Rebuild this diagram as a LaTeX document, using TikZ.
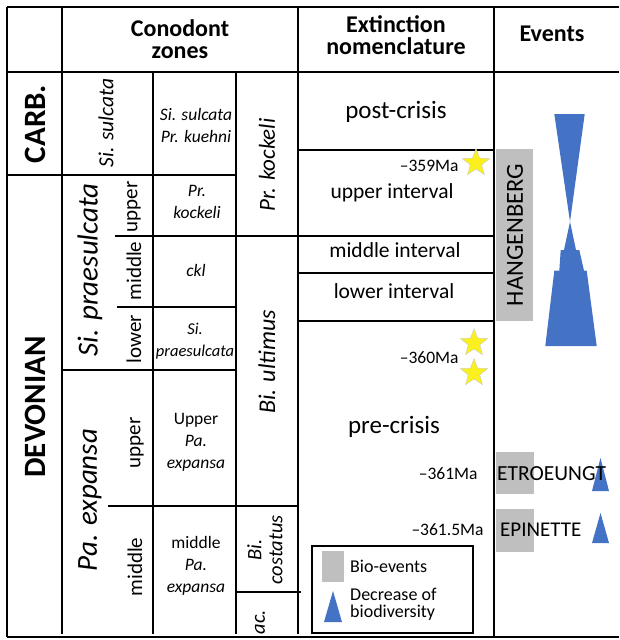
\documentclass[tikz,border=0pt]{standalone}
\usepackage{fontspec}
\setmainfont{Carlito}
\usetikzlibrary{shapes.geometric}
\definecolor{bioblue}{HTML}{4472C4}
\definecolor{biogray}{HTML}{BFBFBF}
\definecolor{staryellow}{HTML}{FAF01E}

\begin{document}
\begin{tikzpicture}[x=1pt,y=-1pt,
  rule/.style={line width=1.6pt},
  hdr/.style={font=\fontsize{24}{22}\selectfont\bfseries,align=center},
  era/.style={font=\fontsize{31}{31}\selectfont\bfseries,rotate=90},
  zone/.style={font=\fontsize{29}{29}\selectfont\itshape,rotate=90},
  sub/.style={font=\fontsize{21}{21}\selectfont,rotate=90},
  biozone/.style={font=\fontsize{17.5}{22}\selectfont\itshape,align=center},
  interval/.style={font=\fontsize{21.5}{24}\selectfont},
  age/.style={font=\fontsize{17.5}{20}\selectfont,anchor=east},
  starmark/.style={star,star points=5,star point ratio=2.4,minimum size=29pt,inner sep=0pt,fill=staryellow,draw=black!20,thin}]
\useasboundingbox (0,0) rectangle (619,640);

\draw[rule] (7,7) -- (619,7);
\draw[rule] (7,72) -- (619,72);
\draw[rule] (7,637) -- (619,637);
\draw[rule] (7,7) -- (7,637);
\draw[rule] (62,7) -- (62,634);
\draw[rule] (153,72) -- (153,634);
\draw[rule] (236,72) -- (236,634);
\draw[rule] (298,7) -- (298,634);
\draw[rule] (494,7) -- (494,637);

\draw[rule] (7,175) -- (236,175);
\draw[rule] (115,236) -- (494,236);
\draw[rule] (117,307) -- (236,307);
\draw[rule] (62,370) -- (236,370);
\draw[rule] (108,506) -- (298,506);
\draw[rule] (236,592) -- (301,592);
\draw[rule] (298,150) -- (494,150);
\draw[rule] (298,273) -- (494,273);
\draw[rule] (298,321) -- (494,321);

\node[hdr] (hconodont) at (180,39) {Conodont\\zones};
\node[hdr] (hextinct) at (396,35) {Extinction\\nomenclature};
\node[hdr] (hevents) at (552,34) {Events};

\node[era] (carb) at (35,124) {CARB.};
\node[era] (devonian) at (35,407) {DEVONIAN};

\node[zone,font=\fontsize{21.5}{21.5}\selectfont\itshape] (sisulcata) at (106,123) {Si. sulcata};
\node[zone] (sipraes) at (90,270) {Si. praesulcata};
\node[zone] (paexpansa) at (90,500) {Pa. expansa};
\node[sub] (praesup) at (134,207) {upper};
\node[sub] (praesmid) at (134,271) {middle};
\node[sub] (praeslow) at (134,339) {lower};
\node[sub] (expup) at (137,443) {upper};
\node[sub] (expmid) at (135,567) {middle};

\node[biozone] (kuehni) at (196,125) {Si. sulcata\\Pr. kuehni};
\node[biozone] (kockeli) at (197,202) {Pr.\\kockeli};
\node[biozone] (ckl) at (196,270) {ckl};
\node[biozone,font=\fontsize{16.5}{22}\selectfont\itshape] (praesulcata) at (195,341) {Si.\\praesulcata};
\node[biozone] (upexpansa) at (196,442) {\upshape Upper\\Pa.\\expansa};
\node[biozone] (midexpansa) at (196,566) {\upshape middle\\Pa.\\expansa};

\node[zone,font=\fontsize{23}{23}\selectfont\itshape] (prkockeli) at (267,165) {Pr. kockeli};
\node[zone,font=\fontsize{24}{24}\selectfont\itshape] (biultimus) at (267,362) {Bi. ultimus};
\node[zone,font=\fontsize{20.5}{21}\selectfont\itshape,align=center] (bicostatus) at (265,550) {Bi.\\costatus};
\node[zone,font=\fontsize{20.5}{21}\selectfont\itshape] (biac) at (260,622) {ac.};

\node[interval,font=\fontsize{25}{25}\selectfont] (postcrisis) at (396,112) {post-crisis};
\node[interval] (upint) at (392,193) {upper interval};
\node[interval] (midint) at (395,250) {middle interval};
\node[interval] (lowint) at (394,291) {lower interval};
\node[interval,font=\fontsize{25}{25}\selectfont] (precrisis) at (394,427) {pre-crisis};

\node[starmark] (star359) at (476,163) {};
\node[starmark] (star360a) at (474,343) {};
\node[starmark] (star360b) at (474,373) {};
\node[age] (ma359) at (462,166) {--359Ma};
\node[age] (ma360) at (462,358) {--360Ma};
\node[age] (ma361) at (481,474) {--361Ma};
\node[age] (ma3615) at (487,530) {--361.5Ma};

\fill[biogray] (496,149) rectangle (533,321);
\node[font=\fontsize{24.5}{24.5}\selectfont,rotate=90] (hangenberg) at (515,235) {HANGENBERG};
\fill[bioblue] (554.3,114) -- (584.7,114) -- (570,221.7) -- (576,250) -- (579.3,250) -- (584,270.7) -- (586.7,270.7) -- (596.7,346) -- (545.3,346) -- (554.3,270.7) -- (559.3,270.7) -- (560.7,250) -- (564,250) -- (570,221.7) -- cycle;

\fill[biogray] (496,452) rectangle (534,494);
\fill[biogray] (496,509) rectangle (534,552);
\fill[bioblue] (592,491) -- (609,491) -- (600.5,458) -- cycle;
\fill[bioblue] (592,543) -- (609,543) -- (600.5,513) -- cycle;
\node[font=\fontsize{21.5}{21.5}\selectfont,anchor=west,inner sep=0pt] (etroeungt) at (497,474) {ETROEUNGT};
\node[font=\fontsize{21}{21}\selectfont,anchor=west,inner sep=0pt] (epinette) at (500,530) {EPINETTE};

\draw[line width=1.2pt] (312,546) rectangle (473,633);
\fill[biogray] (322,551) rectangle (344,582);
\fill[bioblue] (324,622) -- (342,622) -- (333,591) -- cycle;
\node[font=\fontsize{18}{17}\selectfont,anchor=west,inner sep=0pt] (legbio) at (350,566) {Bio-events};
\node[font=\fontsize{18}{17}\selectfont,anchor=west,align=left,inner sep=0pt] (legdec) at (350,604) {Decrease of\\biodiversity};

\end{tikzpicture}
\end{document}
